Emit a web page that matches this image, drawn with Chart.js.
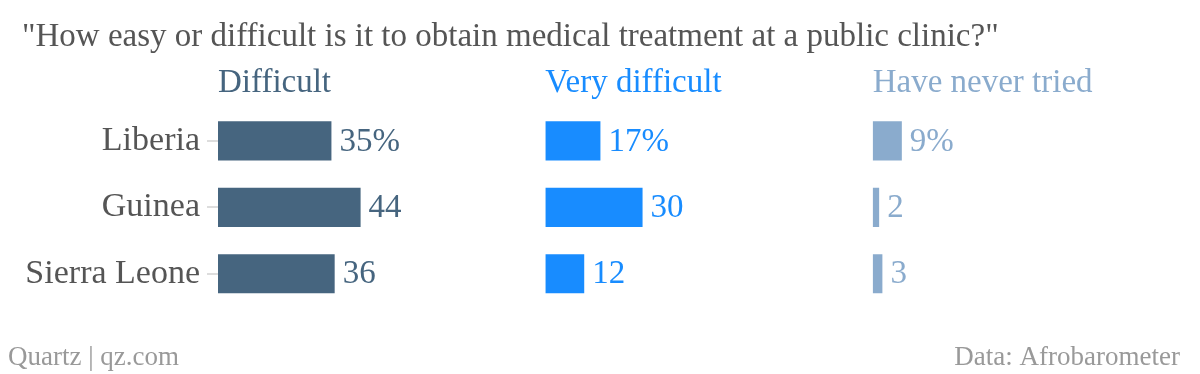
<!DOCTYPE html>
<html>
<head>
<meta charset="utf-8">
<script src="https://cdn.jsdelivr.net/npm/chart.js@4"></script>
<style>
  html, body { margin: 0; padding: 0; background: #fff; }
  #wrap { width: 1200px; height: 374px; position: relative; }
</style>
</head>
<body>
<div id="wrap"><canvas id="chart"></canvas></div>
<script>
const countries = ['Liberia', 'Guinea', 'Sierra Leone'];
const difficult = [35, 44, 36];
const veryDifficult = [17, 30, 12];
const neverTried = [9, 2, 3];
const panelTitles = ['Difficult', 'Very difficult', 'Have never tried'];
const panelColors = ['#46657f', '#188cff', '#8aabcd'];

const chartTitle = '"How easy or difficult is it to obtain medical treatment at a public clinic?"';
const sourceLeft = 'Quartz | qz.com';
const sourceRight = 'Data: Afrobarometer';

const FONT = '"Liberation Serif", "Times New Roman", serif';

// title, footer and the value labels next to the bars
const textPlugin = {
    id: 'texts',
    afterDatasetsDraw(chart) {
        const ctx = chart.ctx;
        ctx.save();
        ctx.textBaseline = 'middle';
        ctx.font = '33px ' + FONT;
        chart.data.datasets.forEach((ds, d) => {
            const meta = chart.getDatasetMeta(d);
            ctx.fillStyle = panelColors[d];
            ctx.textAlign = 'left';
            meta.data.forEach((bar, i) => {
                const label = ds.data[i] + (i === 0 ? '%' : '');
                ctx.fillText(label, bar.x + 8, bar.y + 1);
            });
        });
        ctx.restore();
    },
    afterDraw(chart) {
        const ctx = chart.ctx;
        ctx.save();
        ctx.textBaseline = 'middle';
        ctx.fillStyle = '#555';
        ctx.font = '33px ' + FONT;
        ctx.textAlign = 'left';
        ctx.fillText(chartTitle, 22, 37);

        ctx.fillStyle = '#999';
        ctx.font = '27px ' + FONT;
        ctx.fillText(sourceLeft, 8, 358);
        ctx.textAlign = 'right';
        ctx.fillText(sourceRight, 1180, 358);
        ctx.restore();
    }
};

function panelAxis(i) {
    return {
        type: 'linear',
        position: 'top',
        stack: 'panels',
        stackWeight: 1,
        min: 0,
        max: 101,
        ticks: { display: false },
        grid: { display: false, drawTicks: false },
        border: { display: false },
        title: {
            display: true,
            text: panelTitles[i],
            align: 'start',
            color: panelColors[i],
            font: { family: FONT, size: 33 },
            padding: { top: 12, bottom: 4 }
        }
    };
}

new Chart(document.getElementById('chart'), {
    type: 'bar',
    data: {
        labels: countries,
        datasets: [
            { label: panelTitles[0], data: difficult, xAxisID: 'x0', backgroundColor: panelColors[0] },
            { label: panelTitles[1], data: veryDifficult, xAxisID: 'x1', backgroundColor: panelColors[1] },
            { label: panelTitles[2], data: neverTried, xAxisID: 'x2', backgroundColor: panelColors[2] }
        ].map(ds => Object.assign(ds, { grouped: false, barPercentage: 0.59, categoryPercentage: 1 }))
    },
    options: {
        indexAxis: 'y',
        responsive: true,
        maintainAspectRatio: false,
        animation: false,
        layout: { padding: { top: 52, bottom: 67, left: 0, right: 0 } },
        plugins: {
            legend: { display: false },
            tooltip: { enabled: false }
        },
        scales: {
            // top axes in a stack get laid out right to left, so list them reversed
            x2: panelAxis(2),
            x1: panelAxis(1),
            x0: panelAxis(0),
            y: {
                position: 'left',
                grid: { offset: false, drawOnChartArea: false, tickLength: 11, color: '#ddd', lineWidth: 2 },
                border: { display: false },
                ticks: { color: '#555', font: { family: FONT, size: 34 }, padding: 7 },
                afterFit(scale) { scale.width = 218; }
            }
        }
    },
    plugins: [textPlugin]
});
</script>
</body>
</html>
